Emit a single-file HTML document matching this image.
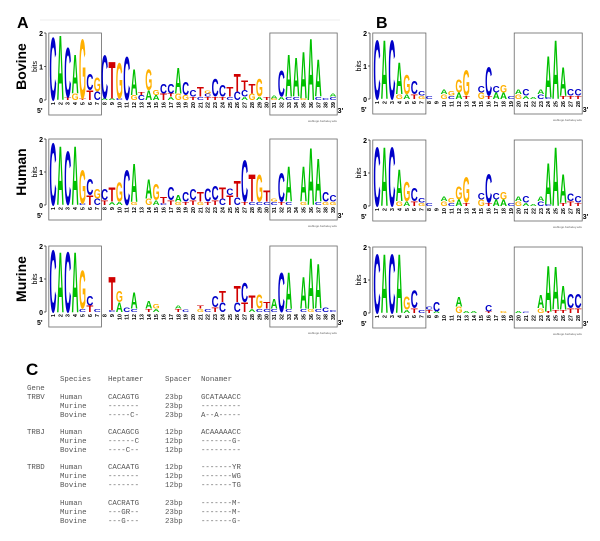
<!DOCTYPE html>
<html><head><meta charset="utf-8"><style>
body{margin:0;background:#fff;width:600px;height:541px;overflow:hidden}
svg{display:block}
.tb{font-family:"Liberation Mono",monospace;font-size:7.4px;fill:#555}
</style></head><body>
<svg id="fig" width="600" height="541" viewBox="0 0 600 541" xmlns="http://www.w3.org/2000/svg">
<line x1="40" y1="20" x2="340" y2="20" stroke="#eee" stroke-width="1"/>
<text x="17" y="28" font-family="Liberation Sans" font-weight="bold" font-size="16">A</text>
<text x="376" y="28" font-family="Liberation Sans" font-weight="bold" font-size="16">B</text>
<text x="26" y="375" font-family="Liberation Sans" font-weight="bold" font-size="17">C</text>
<g id="logos"></g>
<g class="tb">
<text x="60" y="381">Species</text><text x="108" y="381">Heptamer</text><text x="165" y="381">Spacer</text><text x="201" y="381">Nonamer</text>
<text x="27" y="390">Gene</text>
<text x="27" y="399">TRBV</text><text x="60" y="399">Human</text><text x="108" y="399">CACAGTG</text><text x="165" y="399">23bp</text><text x="201" y="399">GCATAAACC</text>
<text x="60" y="408">Murine</text><text x="108" y="408">-------</text><text x="165" y="408">23bp</text><text x="201" y="408">---------</text>
<text x="60" y="417">Bovine</text><text x="108" y="417">-----C-</text><text x="165" y="417">23bp</text><text x="201" y="417">A--A-----</text>
<text x="27" y="434">TRBJ</text><text x="60" y="434">Human</text><text x="108" y="434">CACAGCG</text><text x="165" y="434">12bp</text><text x="201" y="434">ACAAAAACC</text>
<text x="60" y="443">Murine</text><text x="108" y="443">------C</text><text x="165" y="443">12bp</text><text x="201" y="443">-------G-</text>
<text x="60" y="452">Bovine</text><text x="108" y="452">----C--</text><text x="165" y="452">12bp</text><text x="201" y="452">---------</text>
<text x="27" y="469">TRBD</text><text x="60" y="469">Human</text><text x="108" y="469">CACAATG</text><text x="165" y="469">12bp</text><text x="201" y="469">-------YR</text>
<text x="60" y="478">Murine</text><text x="108" y="478">-------</text><text x="165" y="478">12bp</text><text x="201" y="478">-------WG</text>
<text x="60" y="487">Bovine</text><text x="108" y="487">-------</text><text x="165" y="487">12bp</text><text x="201" y="487">-------TG</text>
<text x="60" y="505">Human</text><text x="108" y="505">CACRATG</text><text x="165" y="505">23bp</text><text x="201" y="505">-------M-</text>
<text x="60" y="514">Murine</text><text x="108" y="514">---GR--</text><text x="165" y="514">23bp</text><text x="201" y="514">-------M-</text>
<text x="60" y="523">Bovine</text><text x="108" y="523">---G---</text><text x="165" y="523">23bp</text><text x="201" y="523">-------G-</text>
</g>
</svg>
<script>
const bovineA = ["C1.95","A2","T.08C1.55","G.2A1.2","T.05G1.85","T.3C.5","C.25G.45","A.05C1.35","A.05T1.15","C.05G1.1","C1.35","G.15A.8","C.15T.1","A.3G.65","A.15G.15","T.2C.3","A.1T.1C.3","G.2A.8","G.15C.4","T.1C.2","C.1T.3","T.1C.1G.1","T.1C.55","T.1C.35","C.1T.3","C.25T.55","A.1C.2T.3","G.2T.3","A.1G.55","T.1","G.05A.1","A.1C.8","C.1A1.3","C.1A1.2","G.05A1.45","A1.9","C.1A1.15","C.05","C.1A.1"];
const humanA = ["C1.95","A1.85","C1.7","A1.85","C.05G1.05","T.3C.5","C.2G.3","T.15C.35","A.1T.45","A.1G.6","C1.1","G.1A1.2","","G.2A.6","A.15G.5","C.05T.2","T.15C.4","G.1A.2","T.1C.3","T.15C.35","G.1T.3","T.1C.4","T.15C.45","C.2T.35","T.3C.2","C.25T.5","T.1C1.3","C.1T.85","C.1G.85","C.1T.35","C.1G.1","T.1C.9","C.1A1.1","","G.1A1.1","A1.8","C.1A1.35","G.1C.3","G.1C.2"];
const murineA = ["C1.95","A1.9","C1.9","A1.9","C.1G1.2","T.2C.3","C.1","","C.05T1.05","A.3G.35","C.15","C.1A.5","","T.1A.25","A.1G.15","","","T.1A.1","C.08","","G.1T.1","C.1","T.15C.35","C.3T.35","","C.3T.5","T.3C.6","A.1T.4","C.1G.45","C.1T.2","C.1A.3","C1.25","C.1A1.15","","C.1A1.0","G.1A1.6","C.1A1.4","C.15","C.05"];
const bovineB = ["C1.85","A1.85","C1.85","G.15A1.0","A.15G.6","T.15C.4","G.1C.15","C.1","","G.15A.15","C.1G.15","A.2G.4","T.1G.8","","G.2C.2","T.1C.9","A.2C.2","A.2G.25","C.1","G.15A.15","A.1C.2","A.05","C.15A.15","C.05A1.3","A1.85","T.1A.9","T.1C.2","T.1C.2"];
const humanB = ["C1.85","A1.85","C1.85","G.15A1.0","A.15G.6","T.15C.4","G.1C.15","C.1","","G.15A.15","C.1G.15","A.2G.4","T.1G.8","","G.2C.2","T.1C.9","A.2C.2","A.2G.25","C.1","G.15A.15","A.1C.2","A.05","C.15A.15","C.05A1.3","A1.85","T.1A.9","T.15C.25","T.1C.2"];
const murineB = ["C1.85","A1.85","C1.85","A1.85","A.1G.4","T.15C.55","C.1","T.1C.1","A.05C.3","","","G.2A.3","A.05","A.05","","T.05C.2","","G.05","","A.05","C.03","","G.15A.4","T.05A1.45","T.1A1.35","T.1A.75","T.15C.45","T.15C.45"];

const NS="http://www.w3.org/2000/svg";
const COL={A:"#00c000",C:"#0000c8",G:"#ffb000",T:"#d00000"};
const root=document.getElementById('logos');
function mk(tag,attrs,parent){const e=document.createElementNS(NS,tag);for(const k in attrs)e.setAttribute(k,attrs[k]);(parent||root).appendChild(e);return e;}
function logo(name,data,x1,step,y2,y0,species,boxes,fs){
  const g=mk('g',{});
  
  
  const yb=v=>y0-(y0-y2)*v/2;
  // axis
  const ax=x1-7;
  mk('line',{x1:ax,y1:yb(2),x2:ax,y2:yb(0),stroke:'#000','stroke-width':0.6},g);
  [0,1,2].forEach(t=>{
    mk('line',{x1:ax-2,y1:yb(t),x2:ax,y2:yb(t),stroke:'#000','stroke-width':0.6},g);
    const tx=mk('text',{x:ax-3,y:yb(t)+3,'text-anchor':'end','font-family':'Liberation Sans','font-size':7,'font-weight':'bold'},g);tx.textContent=t;
  });
  const bl=mk('text',{transform:`translate(${ax-9},${yb(1)}) rotate(-90)`,'text-anchor':'middle','font-family':'Liberation Sans','font-size':7},g);bl.textContent='bits';
  if(species){const sp=mk('text',{transform:`translate(${ax-20},${yb(1)}) rotate(-90)`,'text-anchor':'middle','font-family':'Liberation Sans','font-size':14,'font-weight':'bold'},g);sp.textContent=species;}
  const p5=mk('text',{x:ax-9,y:y0+13,'font-family':'Liberation Sans','font-size':7,'font-weight':'bold'},g);p5.textContent="5'";
  const p3=mk('text',{x:x1+step*(data.length-1)+step/2+1,y:y0+13,'font-family':'Liberation Sans','font-size':7,'font-weight':'bold'},g);p3.textContent="3'";
  const wl=mk('text',{x:x1+step*(data.length-1)+4,y:y0+22,'text-anchor':'end','font-family':'Liberation Sans','font-size':3,fill:'#666'},g);wl.textContent='weblogo.berkeley.edu';
  boxes.forEach(b=>{mk('rect',{x:x1+step*(b[0]-1)-step/2-0.5,y:y2,width:step*(b[1]-b[0]+1)+1,height:(y0-y2)+15,fill:'none',stroke:'#666','stroke-width':0.8},g);});
  data.forEach((s,i)=>{
    const cx=x1+step*i;
    const num=mk('text',{transform:`translate(${cx+2},${y0+2}) rotate(-90)`,'text-anchor':'end','font-family':'Liberation Sans','font-size':fs,'font-weight':'bold'},g);num.textContent=i+1;
    let acc=0;const re=/([ACGT])([\d.]+)/g;let m;
    while((m=re.exec(s))){
      const h=parseFloat(m[2]);const yb0=yb(acc);const hp=(y0-y2)*h/2;acc+=h;
      if(hp<0.3)continue;
      const t=mk('text',{x:0,y:0,'font-family':'Liberation Sans','font-weight':'bold','font-size':10,fill:COL[m[1]],textLength:step-0.4,lengthAdjust:'spacingAndGlyphs',transform:`translate(${cx-step/2+0.2},${yb0}) scale(1,${hp/7.25})`},g);
      
      
      t.textContent=m[1];
    }
  });
}
const sA=(333-53)/38, sB=(578-377)/27;
logo('bovine-logo-a',bovineA,53,sA,33,100,'Bovine',[[1,7],[31,39]],5.5);
logo('human-logo-a',humanA,53,sA,139,205,'Human',[[1,7],[31,39]],5.5);
logo('murine-logo-a',murineA,53,sA,246,312,'Murine',[[1,7],[31,39]],5.5);
logo('bovine-logo-b',bovineB,377,sB,33,99,'',[[1,7],[20,28]],5.5);
logo('human-logo-b',humanB,377,sB,140,206,'',[[1,7],[20,28]],5.5);
logo('murine-logo-b',murineB,377,sB,247,313,'',[[1,7],[20,28]],5.5);
</script>
</body></html>
